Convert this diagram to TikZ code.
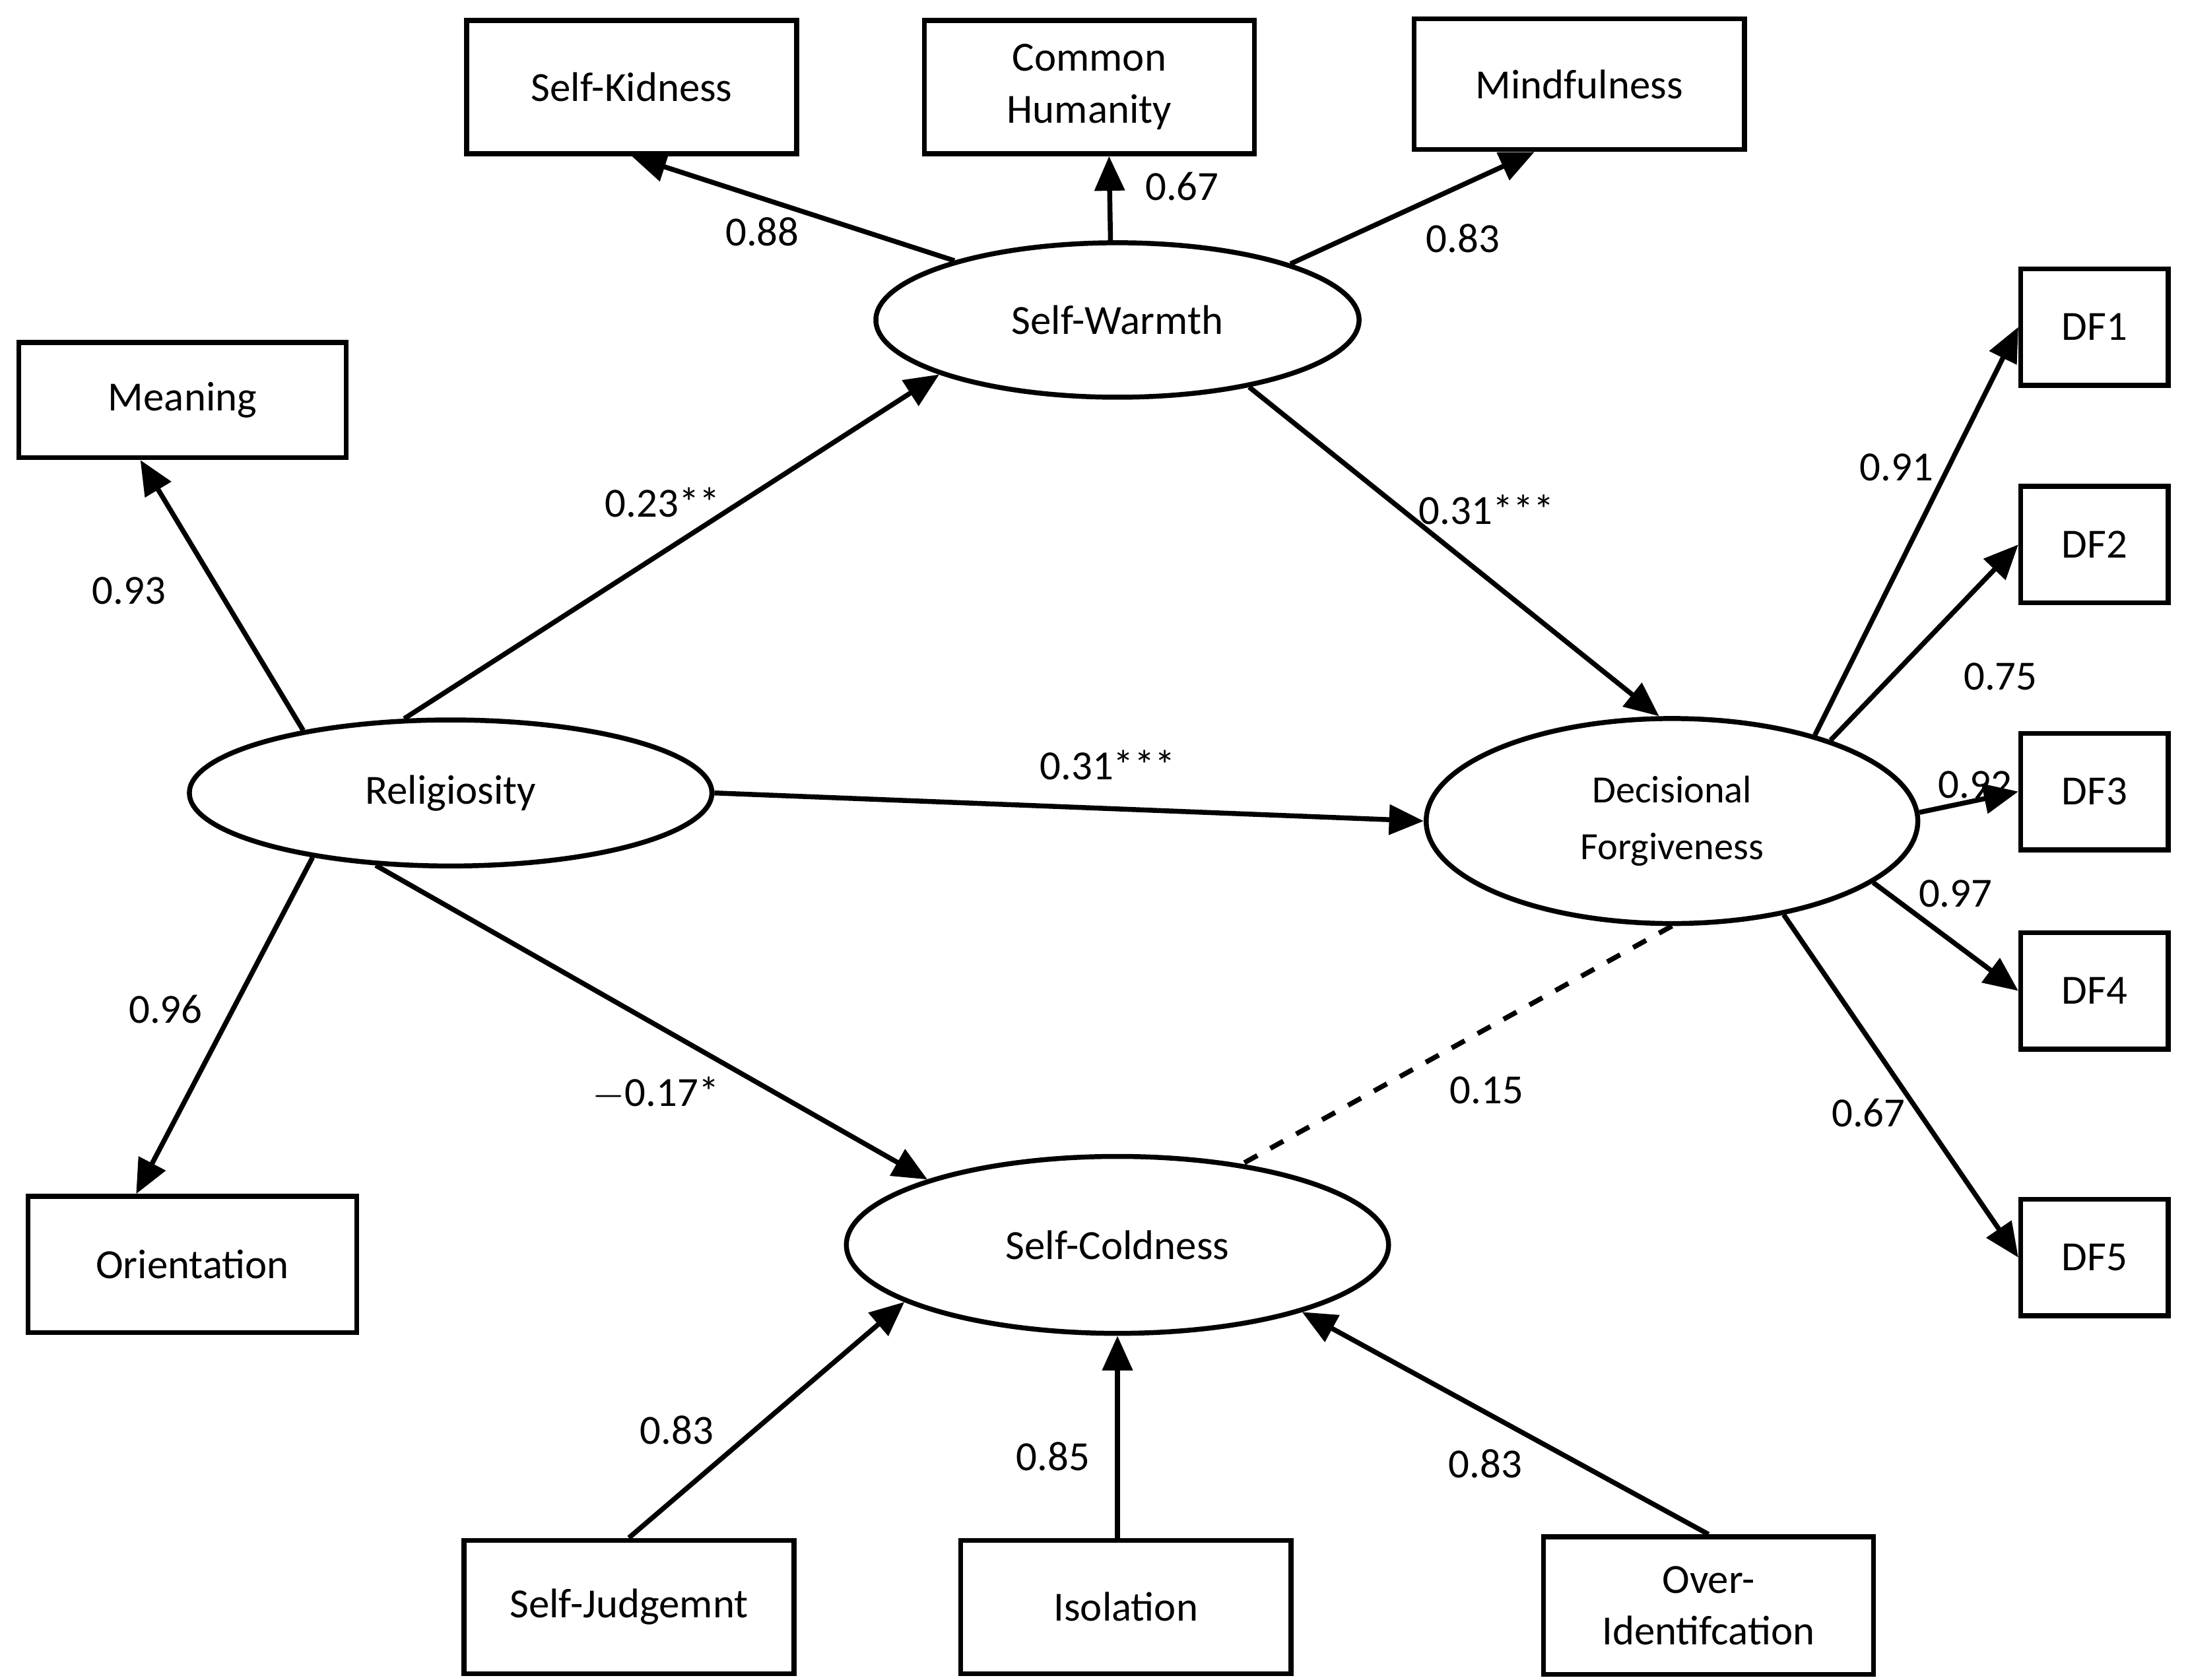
\documentclass[tikz,border=0pt]{standalone}
\usepackage{fontspec}
\setmainfont{Carlito}
\usetikzlibrary{shapes.geometric,arrows.meta}
\begin{document}
\begin{tikzpicture}[x=0.01cm,y=-0.01cm,font=\fontsize{8.4}{10.5}\selectfont]
	\tikzset{
	  box/.style={draw,line width=1pt,minimum width=2.35cm,minimum height=0.95cm,align=center,inner sep=1pt},
	  dfbox/.style={draw,line width=1pt,minimum width=1.05cm,minimum height=0.83cm},
	  latent/.style={draw,ellipse,line width=1pt,align=center,inner sep=0pt},
	  path/.style={line width=1pt,-{Triangle[length=7pt,width=6pt]}},
	  coef/.style={anchor=center},
	}
	\useasboundingbox (0,0) rectangle (1560,1197);
	% latent variables
	\node[latent,minimum width=3.44cm,minimum height=1.1cm] (warm) at (796,228) {Self-Warmth};
	\node[latent,minimum width=3.72cm,minimum height=1.04cm] (relig) at (321,565) {Religiosity};
	\node[latent,minimum width=3.5cm,minimum height=1.46cm,font=\fontsize{7.8}{11.5}\selectfont] (forgive) at (1191,585) {Decisional\\Forgiveness};
	\node[latent,minimum width=3.86cm,minimum height=1.26cm] (cold) at (796,887) {Self-Coldness};
	% indicators
	\node[box] (kind) at (450,62) {Self-Kidness};
	\node[box] (human) at (776,62) {Common\\Humanity};
	\node[box,minimum height=0.93cm] (mind) at (1125,60) {Mindfulness};
	\node[box,minimum height=0.82cm,minimum width=2.33cm] (mean) at (130,285) {Meaning};
	\node[box,minimum height=0.97cm,minimum width=2.34cm] (orient) at (137,901) {Orientation};
	\node[box] (judge) at (448,1145) {Self-Judgemnt};
	\node[box] (isol) at (802,1145) {Isolation};
	\node[box,minimum height=0.98cm] (overid) at (1217,1144) {Over-\\Identifcation};
	\node[dfbox] (df1) at (1492,233) {DF1};
	\node[dfbox] (df2) at (1492,388) {DF2};
	\node[dfbox] (df3) at (1492,564) {DF3};
	\node[dfbox] (df4) at (1492,706) {DF4};
	\node[dfbox] (df5) at (1492,896) {DF5};
	% paths
	\draw[path] (warm.160) -- (kind.south);
	\draw[path] (warm.95) -- ([xshift=0.14cm]human.south);
	\draw[path] (warm.18) -- ([xshift=-0.32cm]mind.south);
	\draw[path] (relig.157) -- ([xshift=-0.3cm]mean.south);
	\draw[path] (relig.205) -- ([xshift=-0.4cm]orient.north);
	\draw[path] (relig.122) -- (warm.197);
	\draw[path] (relig.east) -- (forgive.west);
	\draw[path] (relig.224) -- (cold.161);
	\draw[path] (warm.333) -- (forgive.97);
	\draw[line width=1pt,dashed] (forgive.270) -- (cold.33);
	\draw[path] (judge.north) -- (cold.195);
	\draw[path] (isol.north -| cold.south) -- (cold.south);
	\draw[path] (overid.north) -- (cold.340);
	\foreach \i/\a in {1/31,2/27,3/2,4/343,5/320}
		\draw[path] (forgive.\a) -- (df\i.west);
	% coefficients
	\node[coef] at (543,165) {0.88};
	\node[coef] at (842,133) {0.67};
	\node[coef] at (1042,170) {0.83};
	\node[coef] at (92,421) {0.93};
	\node[coef] at (472,358) {0.23**};
	\node[coef] at (1059,363) {0.31***};
	\node[coef] at (789,545) {0.31***};
	\node[coef] at (1351,333) {0.91};
	\node[coef] at (1425,482) {0.75};
	\node[coef] at (1407,559) {0.92};
	\node[coef] at (1393,637) {0.97};
	\node[coef] at (118,719) {0.96};
	\node[coef] at (467,779) {$-$0.17*};
	\node[coef] at (1059,777) {0.15};
	\node[coef] at (1331,793) {0.67};
	\node[coef] at (482,1019) {0.83};
	\node[coef] at (750,1038) {0.85};
	\node[coef] at (1058,1043) {0.83};
\end{tikzpicture}
\end{document}
